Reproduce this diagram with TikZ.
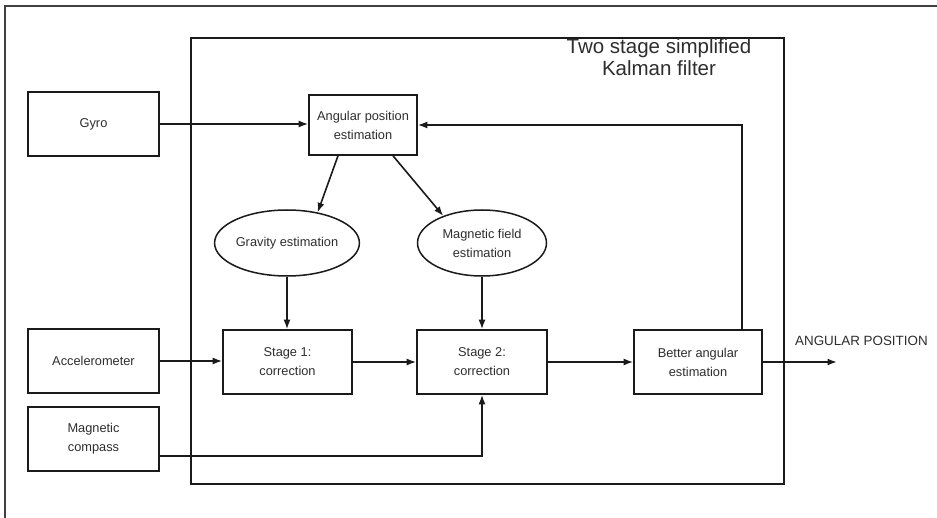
\documentclass[tikz,border=0pt]{standalone}
\usepackage{fontspec}
\setmainfont{Liberation Sans}
\usetikzlibrary{arrows.meta,shapes.geometric,calc}
\definecolor{ink}{HTML}{1A1A1A}
\definecolor{txt}{HTML}{2E2E2E}
\begin{document}
\begin{tikzpicture}[x=1pt,y=-1pt,
  blk/.style={draw=ink, line width=1.6pt, rectangle, inner sep=0pt, align=center,
    text=txt, font=\fontsize{12.8}{19}\selectfont},
  ell/.style={draw=ink, line width=1.5pt, ellipse, inner sep=0pt, align=center,
    text=txt, font=\fontsize{12.8}{19}\selectfont,
    minimum width=129pt, minimum height=66pt},
  flow/.style={ink, line width=1.6pt, -{Latex[length=9.5pt,width=7pt]}},
  frame/.style={draw=ink, line width=2pt}]
\useasboundingbox (0,0) rectangle (937,518);
\fill[white] (0,0) rectangle (937,518);

% page frame (runs off to the right and bottom)
\draw[frame, draw=black!75] (937,6) -- (5,6) -- (5,518);

% filter boundary
\node[frame, rectangle, inner sep=0pt, minimum width=593pt, minimum height=446pt]
  (kf) at (487.5,261) {};
\node[text=txt, align=center, font=\fontsize{20.5}{21.5}\selectfont]
  (title) at (659,57) {Two stage simplified\\Kalman filter};

% sensors
\node[blk, minimum width=131pt, minimum height=64pt] (gyro) at (93.5,124) {Gyro};
\node[blk, minimum width=131pt, minimum height=64pt] (acc) at (93.5,361) {Accelerometer};
\node[blk, minimum width=131pt, minimum height=64pt] (comp) at (93.5,439) {Magnetic\\compass};

% filter blocks
\node[blk, minimum width=108pt, minimum height=60pt] (ang) at (363,125) {Angular position\\estimation};
\node[ell] (grav) at (287,243) {Gravity estimation};
\node[ell] (magf) at (482,243) {Magnetic field\\estimation};
\node[blk, minimum width=129pt, minimum height=64pt] (st1) at (287.5,362) {Stage 1:\\correction};
\node[blk, minimum width=130pt, minimum height=64pt] (st2) at (482,362) {Stage 2:\\correction};
\node[blk, minimum width=128pt, minimum height=64pt] (better) at (698,362) {Better angular\\estimation};

% output
\coordinate (out) at (837,362);
\node[anchor=west, text=txt, inner sep=0pt, font=\fontsize{13.4}{15}\selectfont]
  (outlbl) at (795,341) {ANGULAR POSITION};

% connectors
\draw[flow] (gyro.east) -- (gyro.east -| ang.west);
\draw[flow] ($(ang.south)+(-25,0)$) -- (grav.45);
\draw[flow] ($(ang.south)+(30,0)$) -- (magf.145);
\draw[flow] (grav.south) -- (grav.south |- st1.north);
\draw[flow] (magf.south) -- (magf.south |- st2.north);
\draw[flow] (acc.east) -- (acc.east -| st1.west);
\draw[flow] (st1.east) -- (st2.west);
\draw[flow] (st2.east) -- (better.west);
\draw[flow] (better.east) -- (out);
\coordinate (fb) at ($(better.north east)+(-21,0)$);
\draw[flow] (fb) |- (ang.east);
\coordinate (cj) at ($(comp.east)+(0,17)$);
\draw[flow] (cj) -| (st2.south);
\end{tikzpicture}
\end{document}
